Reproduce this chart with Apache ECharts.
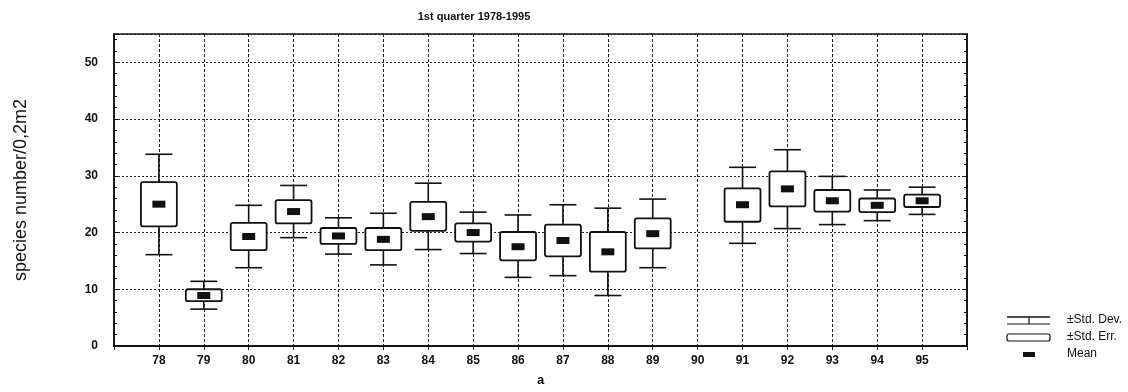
<!DOCTYPE html>
<html>
<head>
<meta charset="utf-8">
<script src="https://cdn.jsdelivr.net/npm/echarts@6/dist/echarts.min.js"></script>
<style>
  html, body { margin: 0; padding: 0; background: #fff; }
  #chart { width: 1128px; height: 392px; }
</style>
</head>
<body>
<div id="chart"></div>
<script>
// Species number per 0,2 m2, 1st quarter, by year (1990 not sampled)
const years  = [78, 79, 80, 81, 82, 83, 84, 85, 86, 87, 88, 89, 90, 91, 92, 93, 94, 95];
const means  = [25.0, 8.9, 19.3, 23.7, 19.4, 18.8, 22.8, 20.0, 17.5, 18.6, 16.6, 19.8, null, 24.9, 27.7, 25.6, 24.8, 25.6];
const seLow  = [21.1, 7.9, 16.9, 21.6, 18.0, 16.9, 20.3, 18.4, 15.1, 15.8, 13.1, 17.2, null, 21.9, 24.6, 23.7, 23.6, 24.5];
const seHigh = [28.9, 10.0, 21.7, 25.7, 20.8, 20.8, 25.4, 21.6, 20.1, 21.4, 20.1, 22.5, null, 27.8, 30.8, 27.5, 26.0, 26.7];
const sdLow  = [16.1, 6.5, 13.8, 19.1, 16.2, 14.3, 17.0, 16.3, 12.1, 12.4, 8.9, 13.8, null, 18.1, 20.7, 21.4, 22.1, 23.2];
const sdHigh = [33.8, 11.4, 24.8, 28.3, 22.6, 23.4, 28.7, 23.6, 23.1, 24.9, 24.3, 25.9, null, 31.5, 34.6, 29.9, 27.5, 28.0];
const yTicks = [0, 10, 20, 30, 40, 50];

const rows = years.map((y, i) => [y, sdLow[i], seLow[i], means[i], seHigh[i], sdHigh[i]])
                  .filter(r => r[3] !== null);

const FONT = "'Liberation Sans', Arial, sans-serif";
const INK = '#111';

// whisker (±SD), box (±SE) and mean marker for one year
function renderBox(params, api) {
  const x = api.value(0);
  const pSdLo = api.coord([x, api.value(1)]);
  const pSeLo = api.coord([x, api.value(2)]);
  const pMean = api.coord([x, api.value(3)]);
  const pSeHi = api.coord([x, api.value(4)]);
  const pSdHi = api.coord([x, api.value(5)]);
  const boxW = api.size([0.8, 0])[0];
  const capW = api.size([0.6, 0])[0];
  const cx = pMean[0];
  const line = { stroke: INK, lineWidth: 1.6 };
  return {
    type: 'group',
    children: [
      { type: 'line', shape: { x1: cx, y1: pSdHi[1], x2: cx, y2: pSeHi[1] }, style: line },
      { type: 'line', shape: { x1: cx, y1: pSeLo[1], x2: cx, y2: pSdLo[1] }, style: line },
      { type: 'line', shape: { x1: cx - capW / 2, y1: pSdHi[1], x2: cx + capW / 2, y2: pSdHi[1] }, style: line },
      { type: 'line', shape: { x1: cx - capW / 2, y1: pSdLo[1], x2: cx + capW / 2, y2: pSdLo[1] }, style: line },
      { type: 'rect', shape: { x: cx - boxW / 2, y: pSeHi[1], width: boxW, height: pSeLo[1] - pSeHi[1], r: 2 },
        style: { fill: '#fff', stroke: INK, lineWidth: 1.8 } },
      { type: 'rect', shape: { x: cx - 6.5, y: pMean[1] - 3.5, width: 13, height: 7 },
        style: { fill: INK } }
    ]
  };
}

const chart = echarts.init(document.getElementById('chart'), null, { renderer: 'canvas' });

chart.setOption({
  animation: false,
  backgroundColor: '#fff',
  title: {
    text: '1st quarter 1978-1995',
    left: 469, top: 6, textAlign: 'center',
    textStyle: { fontFamily: FONT, fontSize: 11, fontWeight: 'bold', color: INK }
  },
  grid: { left: 114, right: 161, top: 34, bottom: 44, show: true, borderColor: INK, borderWidth: 1.5, backgroundColor: 'transparent' },
  xAxis: [{
    type: 'value', min: 77, max: 96, interval: 1,
    name: 'a', nameLocation: 'middle', nameGap: 28,
    nameTextStyle: { fontFamily: FONT, fontSize: 13, fontWeight: 'bold', color: INK },
    axisLine: { show: true, lineStyle: { color: INK, width: 1.5 } },
    axisTick: { show: false },
    axisLabel: {
      margin: 9, fontFamily: FONT, fontSize: 12, fontWeight: 'bold', color: INK,
      formatter: v => (years.indexOf(v) >= 0 ? String(v) : ''),
      showMinLabel: false, showMaxLabel: false
    },
    splitLine: { show: true, lineStyle: { color: '#222', type: [3, 2], width: 1 } }
  }, {
    type: 'value', min: 77, max: 96, interval: 1, position: 'top',
    axisLine: { show: true, lineStyle: { color: INK, width: 1.5 } },
    axisTick: { show: true, inside: true, length: 4, lineStyle: { color: INK } },
    axisLabel: { show: false }, splitLine: { show: false }
  }],
  yAxis: [{
    type: 'value', min: 0, max: 55, interval: 10,
    name: 'species number/0,2m2', nameLocation: 'middle', nameGap: 84, nameRotate: 90,
    nameTextStyle: { fontFamily: FONT, fontSize: 18, color: INK },
    axisLine: { show: true, lineStyle: { color: INK, width: 1.5 } },
    axisTick: { show: true, inside: true, length: 4, lineStyle: { color: INK } },
    minorTick: { show: true, splitNumber: 5, length: 3, lineStyle: { color: INK } },
    axisLabel: {
      margin: 16, fontFamily: FONT, fontSize: 12, fontWeight: 'bold', color: INK,
      formatter: v => (yTicks.indexOf(v) >= 0 ? String(v) : ''),
      showMaxLabel: false
    },
    splitLine: { show: true, lineStyle: { color: '#222', type: [2, 2], width: 1 } }
  }, {
    type: 'value', min: 0, max: 55, interval: 10, position: 'right',
    axisLine: { show: true, lineStyle: { color: INK, width: 1.5 } },
    axisTick: { show: true, inside: true, length: 4, lineStyle: { color: INK } },
    minorTick: { show: true, splitNumber: 5, length: 3, lineStyle: { color: INK } },
    axisLabel: { show: false }, splitLine: { show: false }
  }],
  series: [{
    type: 'custom',
    xAxisIndex: 0, yAxisIndex: 0,
    renderItem: renderBox,
    encode: { x: 0, y: [1, 2, 3, 4, 5] },
    data: rows,
    z: 10
  }],
  graphic: [
    // legend keys
    { type: 'line', shape: { x1: 1007, y1: 317, x2: 1050, y2: 317 }, style: { stroke: INK, lineWidth: 1.4 } },
    { type: 'line', shape: { x1: 1007, y1: 324, x2: 1050, y2: 324 }, style: { stroke: INK, lineWidth: 1.2 } },
    { type: 'line', shape: { x1: 1029, y1: 317, x2: 1029, y2: 324 }, style: { stroke: INK, lineWidth: 1.2 } },
    { type: 'rect', shape: { x: 1007, y: 334, width: 43, height: 7, r: 2 }, style: { fill: '#fff', stroke: INK, lineWidth: 1.2 } },
    { type: 'rect', shape: { x: 1023, y: 352, width: 12, height: 5 }, style: { fill: INK } },
    { type: 'text', x: 1067, y: 320, style: { text: '±Std. Dev.', font: '12px ' + FONT, fill: INK, verticalAlign: 'middle' } },
    { type: 'text', x: 1067, y: 337, style: { text: '±Std. Err.', font: '12px ' + FONT, fill: INK, verticalAlign: 'middle' } },
    { type: 'text', x: 1067, y: 354, style: { text: 'Mean', font: '12px ' + FONT, fill: INK, verticalAlign: 'middle' } }
  ]
});
</script>
</body>
</html>
